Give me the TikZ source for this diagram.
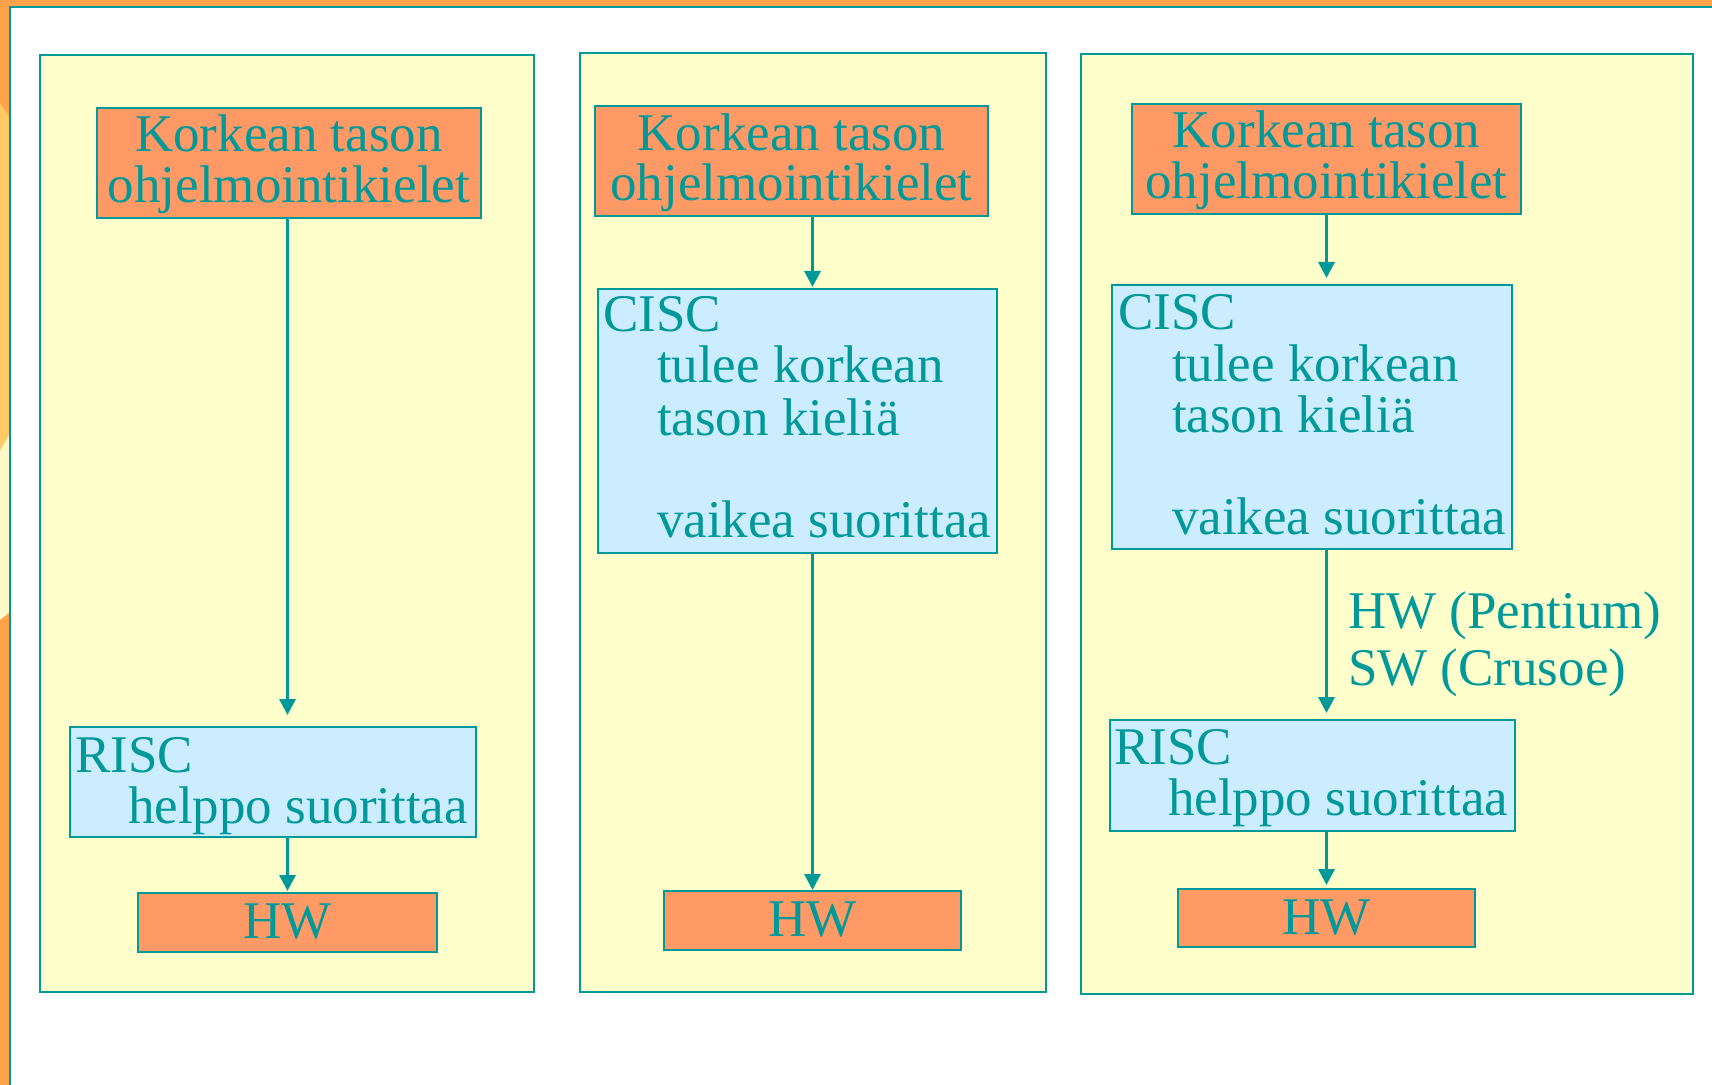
\documentclass[tikz,border=0pt]{standalone}
\usepackage{fontspec}
\setmainfont{Liberation Serif}
\usetikzlibrary{arrows.meta}
\definecolor{teal}{HTML}{009999}
\definecolor{bgorange}{HTML}{FFA34A}
\definecolor{lorange}{HTML}{FFCA66}
\definecolor{pyellow}{HTML}{FFFAC8}
\definecolor{panelfill}{HTML}{FFFFCC}
\definecolor{boxorange}{HTML}{FF9966}
\definecolor{boxblue}{HTML}{CCECFF}
\newcommand{\mybox}[6]{\node[#2, minimum width={(#5-#3)*0.5pt}, minimum height={(#6-#4)*0.5pt}] (#1) at ({(#3+#5)/2},{(#4+#6)/2}) {};}
\tikzset{
  boxbase/.style={draw=teal, line width=1.3pt, inner sep=0pt, outer sep=0pt, rectangle},
  panel/.style={boxbase, fill=panelfill},
  obox/.style={boxbase, fill=boxorange},
  bbox/.style={boxbase, fill=boxblue},
  txt/.style={inner sep=0pt, outer sep=0pt, text=teal, font=\fontsize{26.5}{25.5}\selectfont},
  arr/.style={draw=teal, line width=1.6pt, -{Triangle[width=8pt,length=8pt]}},
}
\begin{document}
\begin{tikzpicture}[x=0.5pt,y=-0.5pt]
\useasboundingbox (0,0) rectangle (1712,1085);
% background
\fill[white] (0,0) rectangle (1712,1085);
\fill[bgorange] (0,0) rectangle (1712,7);
\fill[bgorange] (0,0) rectangle (10,1085);
\fill[lorange] (0,103) -- (10,118) -- (10,433) -- (0,451) -- cycle;
\fill[pyellow] (0,451) -- (10,433) -- (10,612) -- (0,620) -- cycle;
\draw[teal, line width=1.1pt] (10,1085) -- (10,7) -- (1712,7);
% panels
\mybox{p1}{panel}{40}{55}{534}{992}
\mybox{p2}{panel}{580}{53}{1046}{992}
\mybox{p3}{panel}{1081}{54}{1693}{994}
% panel 1
\mybox{k1}{obox}{97}{108}{481}{218}
\mybox{r1}{bbox}{70}{727}{476}{837}
\mybox{hw1}{obox}{138}{893}{437}{952}
\node[txt, anchor=base] (k1a) at (289,152) {Korkean tason};
\node[txt, anchor=base] (k1b) at (289,203) {ohjelmointikielet};
\node[txt, anchor=base west] (r1a) at (75,772) {RISC};
\node[txt, anchor=base west] (r1b) at (128,823) {helppo suorittaa};
\node[txt, anchor=base] (hw1t) at (287.5,938) {HW};
\draw[arr, shorten >=6pt] (k1.south -| hw1) -- (r1.north -| hw1);
\draw[arr, shorten >=1pt] (r1.south -| hw1) -- (hw1.north);
% panel 2
\mybox{k2}{obox}{595}{106}{988}{216}
\mybox{c2}{bbox}{598}{289}{997}{553}
\mybox{hw2}{obox}{664}{891}{961}{950}
\node[txt, anchor=base] (k2a) at (791.5,151) {Korkean tason};
\node[txt, anchor=base] (k2b) at (791.5,201) {ohjelmointikielet};
\node[txt, anchor=base west] (c2a) at (603,332) {CISC};
\node[txt, anchor=base west] (c2b) at (657,383) {tulee korkean};
\node[txt, anchor=base west] (c2c) at (657,435) {tason kieliä};
\node[txt, anchor=base west] (c2d) at (657,537) {vaikea suorittaa};
\node[txt, anchor=base] (hw2t) at (812.5,936) {HW};
\draw[arr, shorten >=1pt] (k2.south -| hw2) -- (c2.north -| hw2);
\draw[arr, shorten >=0.5pt] (c2.south -| hw2) -- (hw2.north);
% panel 3
\mybox{k3}{obox}{1132}{104}{1521}{214}
\mybox{c3}{bbox}{1112}{285}{1512}{549}
\mybox{r3}{bbox}{1110}{720}{1515}{831}
\mybox{hw3}{obox}{1178}{889}{1475}{947}
\node[txt, anchor=base] (k3a) at (1326.5,148) {Korkean tason};
\node[txt, anchor=base] (k3b) at (1326.5,199) {ohjelmointikielet};
\node[txt, anchor=base west] (c3a) at (1118,330) {CISC};
\node[txt, anchor=base west] (c3b) at (1172,381) {tulee korkean};
\node[txt, anchor=base west] (c3c) at (1172,432) {tason kieliä};
\node[txt, anchor=base west] (c3d) at (1172,534) {vaikea suorittaa};
\node[txt, anchor=base west] (r3a) at (1114,764) {RISC};
\node[txt, anchor=base west] (r3b) at (1168,815) {helppo suorittaa};
\node[txt, anchor=base] (hw3t) at (1326.5,934) {HW};
\node[txt, anchor=base west] (lab1) at (1348,628) {HW (Pentium)};
\node[txt, anchor=base west] (lab2) at (1348,685) {SW (Crusoe)};
\draw[arr, shorten >=3.5pt] (k3.south -| hw3) -- (c3.north -| hw3);
\draw[arr, shorten >=3.5pt] (c3.south -| hw3) -- (r3.north -| hw3);
\draw[arr, shorten >=2pt] (r3.south -| hw3) -- (hw3.north);
\end{tikzpicture}
\end{document}
